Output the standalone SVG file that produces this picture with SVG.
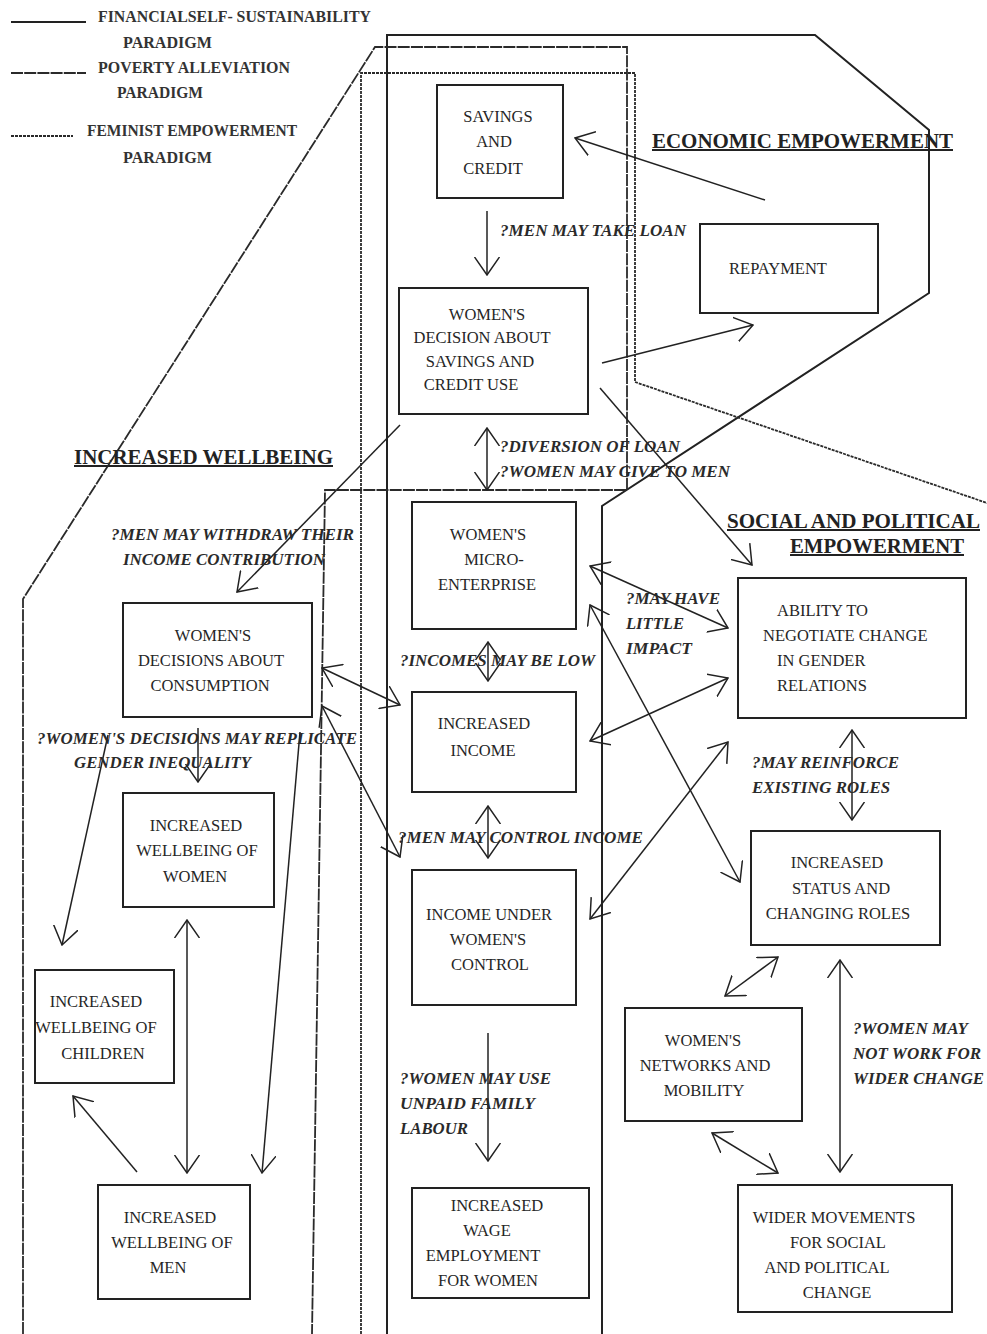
<svg xmlns="http://www.w3.org/2000/svg" width="987" height="1334" viewBox="0 0 987 1334">
<style>
.bg{fill:#fff}
.box{fill:none;stroke:#222;stroke-width:2}
.nt{font-family:"Liberation Serif","Times New Roman",serif;font-size:16.5px;fill:#262626;text-anchor:middle}
.ntl{font-family:"Liberation Serif","Times New Roman",serif;font-size:16.5px;fill:#262626}
.lbl{font-family:"Liberation Serif","Times New Roman",serif;font-size:16px;font-weight:bold;font-style:italic;fill:#2a2a2a}
.hd{font-family:"Liberation Serif","Times New Roman",serif;font-size:20px;font-weight:bold;fill:#222;text-decoration:underline}
.lg{font-family:"Liberation Serif","Times New Roman",serif;font-size:16px;font-weight:bold;fill:#333}
.bA{fill:none;stroke:#222;stroke-width:2}
.bB{fill:none;stroke:#2a2a2a;stroke-width:1.8;stroke-dasharray:12 1.2}
.bC{fill:none;stroke:#2a2a2a;stroke-width:1.8;stroke-dasharray:3 1}
.cn{fill:none;stroke:#222;stroke-width:1.5}
.one{marker-end:url(#ah)}
.two{marker-start:url(#ah);marker-end:url(#ah)}
</style>
<defs>
<marker id="ah" viewBox="0 0 19 26" refX="18" refY="13" markerWidth="19" markerHeight="26" markerUnits="userSpaceOnUse" orient="auto-start-reverse">
<path d="M0,0.5 L18,13 L0,25.5" fill="none" stroke="#222" stroke-width="1.5"/>
</marker>
</defs>
<rect class="bg" x="0" y="0" width="987" height="1334"/>

<g id="legend">
<line x1="11" y1="22" x2="86" y2="22" class="bA"/>
<text class="lg" x="98" y="22" textLength="273" lengthAdjust="spacingAndGlyphs">FINANCIALSELF- SUSTAINABILITY</text>
<text class="lg" x="123" y="48" textLength="89" lengthAdjust="spacingAndGlyphs">PARADIGM</text>
<line x1="11" y1="73" x2="86" y2="73" class="bB"/>
<text class="lg" x="98" y="73" textLength="192" lengthAdjust="spacingAndGlyphs">POVERTY ALLEVIATION</text>
<text class="lg" x="117" y="98" textLength="86" lengthAdjust="spacingAndGlyphs">PARADIGM</text>
<line x1="11" y1="136" x2="73" y2="136" class="bC"/>
<text class="lg" x="87" y="136" textLength="210" lengthAdjust="spacingAndGlyphs">FEMINIST EMPOWERMENT</text>
<text class="lg" x="123" y="163" textLength="89" lengthAdjust="spacingAndGlyphs">PARADIGM</text>
</g>

<g id="boundaries">
<polyline class="bA" points="387,1334 387,35 815,35 929,130 929,293 602,506 602,1334"/>
<polyline class="bB" points="23,1334 23,599 375,47 627,47 627,490 325,490 312,1334"/>
<polyline class="bC" points="361,1334 361,73 635,73 635,382 990,504"/>
</g>

<g id="headings">
<text class="hd" x="652" y="148" textLength="301" lengthAdjust="spacingAndGlyphs">ECONOMIC EMPOWERMENT</text>
<text class="hd" x="74" y="464" textLength="259" lengthAdjust="spacingAndGlyphs">INCREASED WELLBEING</text>
<text class="hd" x="727" y="528" textLength="253" lengthAdjust="spacingAndGlyphs">SOCIAL AND POLITICAL</text>
<text class="hd" x="790" y="553" textLength="174" lengthAdjust="spacingAndGlyphs">EMPOWERMENT</text>
</g>

<g id="savings-credit">
<rect class="box" x="437" y="85" width="126" height="113"/>
<text class="nt" x="498" y="122">SAVINGS</text>
<text class="nt" x="494" y="147">AND</text>
<text class="nt" x="493" y="174">CREDIT</text>
</g>
<g id="repayment">
<rect class="box" x="700" y="224" width="178" height="89"/>
<text class="nt" x="778" y="274">REPAYMENT</text>
</g>
<g id="womens-decision-savings">
<rect class="box" x="399" y="288" width="189" height="126"/>
<text class="nt" x="487" y="320">WOMEN'S</text>
<text class="nt" x="482" y="343">DECISION ABOUT</text>
<text class="nt" x="480" y="367">SAVINGS AND</text>
<text class="nt" x="471" y="390">CREDIT USE</text>
</g>
<g id="micro-enterprise">
<rect class="box" x="412" y="502" width="164" height="127"/>
<text class="nt" x="488" y="540">WOMEN'S</text>
<text class="nt" x="494" y="565">MICRO-</text>
<text class="nt" x="487" y="590">ENTERPRISE</text>
</g>
<g id="increased-income">
<rect class="box" x="412" y="692" width="164" height="100"/>
<text class="nt" x="484" y="729">INCREASED</text>
<text class="nt" x="483" y="756">INCOME</text>
</g>
<g id="income-control">
<rect class="box" x="412" y="870" width="164" height="135"/>
<text class="nt" x="489" y="920">INCOME UNDER</text>
<text class="nt" x="488" y="945">WOMEN'S</text>
<text class="nt" x="490" y="970">CONTROL</text>
</g>
<g id="wage-employment">
<rect class="box" x="412" y="1188" width="177" height="110"/>
<text class="nt" x="497" y="1211">INCREASED</text>
<text class="nt" x="487" y="1236">WAGE</text>
<text class="nt" x="483" y="1261">EMPLOYMENT</text>
<text class="nt" x="488" y="1286">FOR WOMEN</text>
</g>
<g id="consumption">
<rect class="box" x="123" y="603" width="189" height="114"/>
<text class="nt" x="213" y="641">WOMEN'S</text>
<text class="nt" x="211" y="666">DECISIONS ABOUT</text>
<text class="nt" x="210" y="691">CONSUMPTION</text>
</g>
<g id="wellbeing-women">
<rect class="box" x="123" y="793" width="151" height="114"/>
<text class="nt" x="196" y="831">INCREASED</text>
<text class="nt" x="197" y="856">WELLBEING OF</text>
<text class="nt" x="195" y="882">WOMEN</text>
</g>
<g id="wellbeing-children">
<rect class="box" x="35" y="970" width="139" height="113"/>
<text class="nt" x="96" y="1007">INCREASED</text>
<text class="nt" x="96" y="1033">WELLBEING OF</text>
<text class="nt" x="103" y="1059">CHILDREN</text>
</g>
<g id="wellbeing-men">
<rect class="box" x="98" y="1185" width="152" height="114"/>
<text class="nt" x="170" y="1223">INCREASED</text>
<text class="nt" x="172" y="1248">WELLBEING OF</text>
<text class="nt" x="168" y="1273">MEN</text>
</g>
<g id="negotiate-change">
<rect class="box" x="738" y="578" width="228" height="140"/>
<text class="ntl" x="777" y="616">ABILITY TO</text>
<text class="ntl" x="763" y="641">NEGOTIATE CHANGE</text>
<text class="ntl" x="777" y="666">IN GENDER</text>
<text class="ntl" x="777" y="691">RELATIONS</text>
</g>
<g id="status-roles">
<rect class="box" x="751" y="831" width="189" height="114"/>
<text class="nt" x="837" y="868">INCREASED</text>
<text class="nt" x="841" y="894">STATUS AND</text>
<text class="nt" x="838" y="919">CHANGING ROLES</text>
</g>
<g id="networks-mobility">
<rect class="box" x="625" y="1008" width="177" height="113"/>
<text class="nt" x="703" y="1046">WOMEN'S</text>
<text class="nt" x="705" y="1071">NETWORKS AND</text>
<text class="nt" x="704" y="1096">MOBILITY</text>
</g>
<g id="wider-movements">
<rect class="box" x="738" y="1185" width="214" height="127"/>
<text class="nt" x="834" y="1223">WIDER MOVEMENTS</text>
<text class="nt" x="838" y="1248">FOR SOCIAL</text>
<text class="nt" x="827" y="1273">AND POLITICAL</text>
<text class="nt" x="837" y="1298">CHANGE</text>
</g>

<g id="connectors">
<line class="cn one" x1="487" y1="211" x2="487" y2="275"/>
<line class="cn one" x1="765" y1="200" x2="575" y2="138"/>
<line class="cn one" x1="602" y1="363" x2="753" y2="325"/>
<line class="cn one" x1="600" y1="388" x2="752" y2="565"/>
<line class="cn two" x1="487" y1="428" x2="487" y2="490"/>
<line class="cn one" x1="400" y1="425" x2="237" y2="592"/>
<line class="cn two" x1="488" y1="642" x2="488" y2="681"/>
<line class="cn two" x1="590" y1="566" x2="728" y2="628"/>
<line class="cn two" x1="590" y1="605" x2="740" y2="882"/>
<line class="cn two" x1="590" y1="741" x2="728" y2="678"/>
<line class="cn two" x1="590" y1="919" x2="728" y2="742"/>
<line class="cn two" x1="488" y1="806" x2="488" y2="858"/>
<line class="cn two" x1="322" y1="668" x2="400" y2="705"/>
<line class="cn two" x1="322" y1="706" x2="400" y2="857"/>
<line class="cn one" x1="198" y1="728" x2="198" y2="782"/>
<line class="cn one" x1="108" y1="735" x2="62" y2="945"/>
<line class="cn one" x1="300" y1="732" x2="262" y2="1173"/>
<line class="cn two" x1="187" y1="920" x2="187" y2="1173"/>
<line class="cn one" x1="137" y1="1172" x2="73" y2="1096"/>
<line class="cn one" x1="488" y1="1033" x2="488" y2="1161"/>
<line class="cn two" x1="852" y1="730" x2="852" y2="820"/>
<line class="cn two" x1="778" y1="957" x2="725" y2="996"/>
<line class="cn two" x1="840" y1="960" x2="840" y2="1172"/>
<line class="cn two" x1="712" y1="1133" x2="778" y2="1173"/>
</g>

<g id="labels">
<text class="lbl" x="500" y="236" textLength="186" lengthAdjust="spacingAndGlyphs">?MEN MAY TAKE LOAN</text>
<text class="lbl" x="500" y="452" textLength="180" lengthAdjust="spacingAndGlyphs">?DIVERSION OF LOAN</text>
<text class="lbl" x="500" y="477" textLength="230" lengthAdjust="spacingAndGlyphs">?WOMEN MAY GIVE TO MEN</text>
<text class="lbl" x="111" y="540" textLength="243" lengthAdjust="spacingAndGlyphs">?MEN MAY WITHDRAW THEIR</text>
<text class="lbl" x="123" y="565" textLength="202" lengthAdjust="spacingAndGlyphs">INCOME CONTRIBUTION</text>
<text class="lbl" x="626" y="604" textLength="94" lengthAdjust="spacingAndGlyphs">?MAY HAVE</text>
<text class="lbl" x="626" y="629" textLength="58" lengthAdjust="spacingAndGlyphs">LITTLE</text>
<text class="lbl" x="626" y="654" textLength="66" lengthAdjust="spacingAndGlyphs">IMPACT</text>
<text class="lbl" x="400" y="666" textLength="195" lengthAdjust="spacingAndGlyphs">?INCOMES MAY BE LOW</text>
<text class="lbl" x="37" y="744" textLength="320" lengthAdjust="spacingAndGlyphs">?WOMEN'S DECISIONS MAY REPLICATE</text>
<text class="lbl" x="74" y="768" textLength="177" lengthAdjust="spacingAndGlyphs">GENDER INEQUALITY</text>
<text class="lbl" x="752" y="768" textLength="147" lengthAdjust="spacingAndGlyphs">?MAY REINFORCE</text>
<text class="lbl" x="752" y="793" textLength="138" lengthAdjust="spacingAndGlyphs">EXISTING ROLES</text>
<text class="lbl" x="398" y="843" textLength="245" lengthAdjust="spacingAndGlyphs">?MEN MAY CONTROL INCOME</text>
<text class="lbl" x="400" y="1084" textLength="151" lengthAdjust="spacingAndGlyphs">?WOMEN MAY USE</text>
<text class="lbl" x="400" y="1109" textLength="135" lengthAdjust="spacingAndGlyphs">UNPAID FAMILY</text>
<text class="lbl" x="400" y="1134" textLength="68" lengthAdjust="spacingAndGlyphs">LABOUR</text>
<text class="lbl" x="853" y="1034" textLength="115" lengthAdjust="spacingAndGlyphs">?WOMEN MAY</text>
<text class="lbl" x="853" y="1059" textLength="128" lengthAdjust="spacingAndGlyphs">NOT WORK FOR</text>
<text class="lbl" x="853" y="1084" textLength="131" lengthAdjust="spacingAndGlyphs">WIDER CHANGE</text>
</g>
</svg>
